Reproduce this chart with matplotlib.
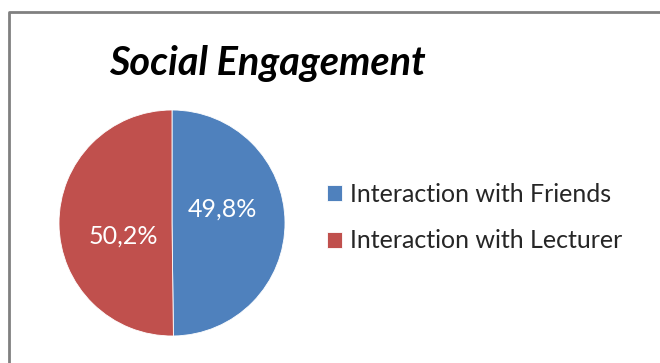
import matplotlib
matplotlib.use("Agg")
import matplotlib.pyplot as plt
from matplotlib.lines import Line2D

plt.rcParams['font.family'] = ['Lato', 'DejaVu Sans']

# data
labels = ['Interaction with Friends', 'Interaction with Lecturer']
values = [49.8, 50.2]
colors = ['#4F81BD', '#C0504D']
title = 'Social Engagement'

W, H = 660, 363
fig = plt.figure(figsize=(W / 100, H / 100), dpi=100)

# chart frame (left and top edges visible)
fig.add_artist(Line2D([9 / W, 9 / W, 1.0], [0.0, 1 - 11.5 / H, 1 - 11.5 / H],
                      color='#808080', lw=2.0, transform=fig.transFigure))

fig.text(267 / W, 1 - 64 / H, title, ha='center', va='center',
         fontsize=28.5, fontweight='bold', fontstyle='italic', color='black')

# pie axes: center (172, 223), radius 113 px
cx, cy, r = 172, 223, 113
ax = fig.add_axes([(cx - r) / W, 1 - (cy + r) / H, 2 * r / W, 2 * r / H])

def fmt(p):
    return f"{p:.1f}".replace('.', ',') + '%'

wedges, texts, autotexts = ax.pie(values, colors=colors, startangle=90, counterclock=False,
                                  autopct=fmt, pctdistance=0.45,
                                  wedgeprops=dict(linewidth=0.6, edgecolor='white'),
                                  textprops=dict(color='white', fontsize=18))
autotexts[0].set_position((0.45, 0.12))
autotexts[1].set_position((-0.43, -0.12))
ax.set_aspect('equal')
ax.set_xlim(-1, 1)
ax.set_ylim(-1, 1)
ax.axis('off')

fig.legend(wedges, labels, loc='center left', bbox_to_anchor=(327 / W, 1 - 217.5 / H),
           frameon=False, fontsize=18, handlelength=0.6, handleheight=0.6,
           handletextpad=0.32, labelspacing=0.95, labelcolor='#262626',
           borderpad=0, borderaxespad=0)

fig.savefig('out.png', dpi=100)
